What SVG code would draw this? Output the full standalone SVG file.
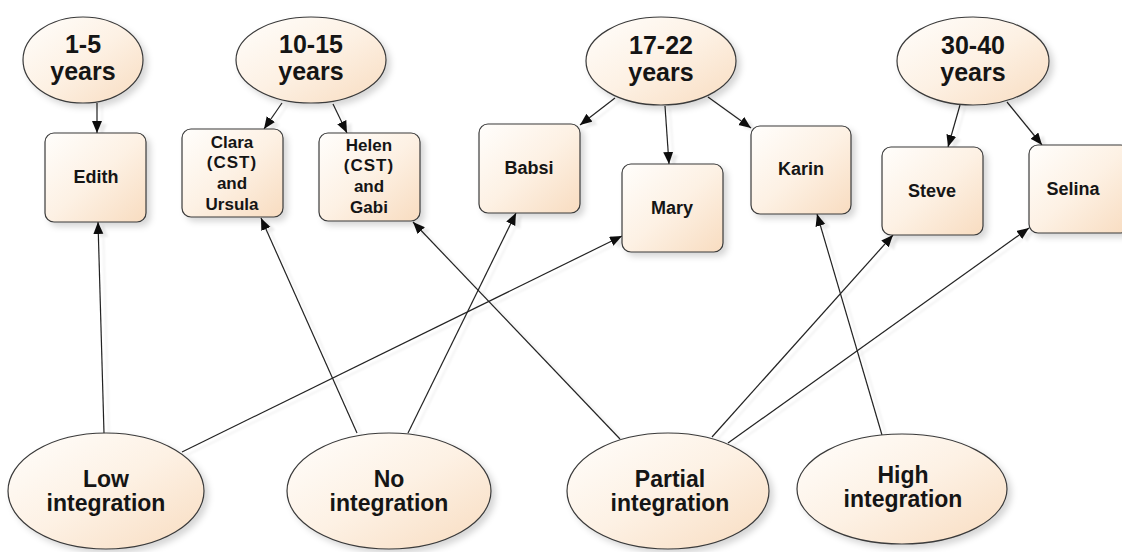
<svg xmlns="http://www.w3.org/2000/svg" width="1122" height="552" viewBox="0 0 1122 552">
<style>
.n{fill:url(#g);stroke:#3a3a3a;stroke-width:1.2;filter:url(#sh)}
.t{font-family:"Liberation Sans",Arial,sans-serif;font-weight:bold;fill:#151515;text-anchor:middle}
.big{font-size:25px}
.mid{font-size:18px}
.sm{font-size:17px}
.bot{font-size:23px}
.e{fill:none;stroke:#222;stroke-width:1.2;marker-end:url(#ar)}
</style>
<defs>
<linearGradient id="g" x1="0" y1="0" x2="1" y2="1">
<stop offset="0" stop-color="#fffefc"/>
<stop offset="0.5" stop-color="#fdf1e4"/>
<stop offset="1" stop-color="#f8dcc0"/>
</linearGradient>
<filter id="sh" x="-20%" y="-20%" width="150%" height="150%">
<feDropShadow dx="4" dy="4" stdDeviation="3" flood-color="#000" flood-opacity="0.16"/>
</filter>
<filter id="ls" x="-10%" y="-10%" width="130%" height="130%">
<feDropShadow dx="5" dy="3" stdDeviation="1" flood-color="#000" flood-opacity="0.08"/>
</filter>
<marker id="ar" markerUnits="userSpaceOnUse" markerWidth="14" markerHeight="12" refX="12" refY="5" orient="auto">
<path d="M0,0 L12,5 L0,10 z" fill="#111"/>
</marker>
</defs>
<rect width="1122" height="552" fill="#fff"/>
<g id="connectors" filter="url(#ls)">
<path class="e" d="M97,103 L97,133"/>
<path class="e" d="M282,103 L264,129"/>
<path class="e" d="M333,104 L347,133"/>
<path class="e" d="M615,98 L580,125"/>
<path class="e" d="M665,106 L669,164"/>
<path class="e" d="M708,97 L751,128"/>
<path class="e" d="M960,105 L948,147"/>
<path class="e" d="M1007,102 L1042,145"/>
<path class="e" d="M104,433 L98,222"/>
<path class="e" d="M182,452 L622,236"/>
<path class="e" d="M357,433 L261,218"/>
<path class="e" d="M408,433 L516,213"/>
<path class="e" d="M620,439 L413,222"/>
<path class="e" d="M712,437 L893,235"/>
<path class="e" d="M728,443 L1029,228"/>
<path class="e" d="M882,435 L817,214"/>
</g>
<g id="age1">
<ellipse class="n" cx="83" cy="60" rx="60" ry="43"/>
<text class="t big" x="83" y="53">1-5</text>
<text class="t big" x="83" y="80">years</text>
</g>
<g id="age2">
<ellipse class="n" cx="311" cy="60" rx="75" ry="43"/>
<text class="t big" x="311" y="53">10-15</text>
<text class="t big" x="311" y="80">years</text>
</g>
<g id="age3">
<ellipse class="n" cx="661" cy="61" rx="75" ry="44"/>
<text class="t big" x="661" y="54">17-22</text>
<text class="t big" x="661" y="81">years</text>
</g>
<g id="age4">
<ellipse class="n" cx="973" cy="61" rx="76" ry="44"/>
<text class="t big" x="973" y="54">30-40</text>
<text class="t big" x="973" y="81">years</text>
</g>
<g id="edith">
<rect class="n" x="45" y="133" width="101" height="89" rx="9"/>
<text class="t mid" x="96" y="183">Edith</text>
</g>
<g id="clara">
<rect class="n" x="182" y="129" width="101" height="88" rx="9"/>
<text class="t sm" x="232" y="148">Clara</text>
<text class="t sm" x="232" y="168" letter-spacing="1">(CST)</text>
<text class="t sm" x="232" y="189">and</text>
<text class="t sm" x="232" y="210">Ursula</text>
</g>
<g id="helen">
<rect class="n" x="319" y="133" width="101" height="88" rx="9"/>
<text class="t sm" x="369" y="151">Helen</text>
<text class="t sm" x="369" y="171" letter-spacing="1">(CST)</text>
<text class="t sm" x="369" y="192">and</text>
<text class="t sm" x="369" y="213">Gabi</text>
</g>
<g id="babsi">
<rect class="n" x="479" y="124" width="101" height="89" rx="9"/>
<text class="t mid" x="529" y="174">Babsi</text>
</g>
<g id="mary">
<rect class="n" x="622" y="164" width="101" height="88" rx="9"/>
<text class="t mid" x="672" y="214">Mary</text>
</g>
<g id="karin">
<rect class="n" x="751" y="126" width="100" height="88" rx="9"/>
<text class="t mid" x="801" y="175">Karin</text>
</g>
<g id="steve">
<rect class="n" x="882" y="147" width="101" height="88" rx="9"/>
<text class="t mid" x="932" y="197">Steve</text>
</g>
<g id="selina">
<rect class="n" x="1029" y="145" width="101" height="88" rx="9"/>
<text class="t mid" x="1073" y="195">Selina</text>
</g>
<g id="low">
<ellipse class="n" cx="106" cy="491" rx="98" ry="58"/>
<text class="t bot" x="106" y="487">Low</text>
<text class="t bot" x="106" y="511">integration</text>
</g>
<g id="no">
<ellipse class="n" cx="389" cy="491" rx="102" ry="58"/>
<text class="t bot" x="389" y="487">No</text>
<text class="t bot" x="389" y="511">integration</text>
</g>
<g id="partial">
<ellipse class="n" cx="668" cy="491" rx="101" ry="58"/>
<text class="t bot" x="670" y="487">Partial</text>
<text class="t bot" x="670" y="511">integration</text>
</g>
<g id="high">
<ellipse class="n" cx="902" cy="489" rx="105" ry="55"/>
<text class="t bot" x="903" y="483">High</text>
<text class="t bot" x="903" y="507">integration</text>
</g>
</svg>
